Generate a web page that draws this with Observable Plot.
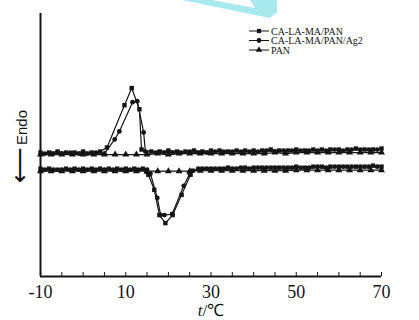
<!DOCTYPE html>
<html><head><meta charset="utf-8">
<script src="https://cdn.jsdelivr.net/npm/d3@7"></script>
<script src="https://cdn.jsdelivr.net/npm/@observablehq/plot@0.6"></script>
<style>html,body{margin:0;padding:0;background:#fff;} #chart{width:419px;height:320px;overflow:hidden;position:relative;}</style>
</head><body><div id="chart"></div>
<script>
const seriesNames = ["CA-LA-MA/PAN", "CA-LA-MA/PAN/Ag2", "PAN"];
const xTickLabels = [-10, 10, 30, 50, 70];
const xMinorTicks = [-10, -5, 0, 5, 10, 15, 20, 25, 30, 35, 40, 45, 50, 55, 60, 65, 70];
const xLabel = "℃";
const yLabel = "Endo";
const yArrow = "⟵";

// heating (upper) traces
const heatSqT = [-10,-8,-6,-4,-2,0,2,4,5.6,9.7,11.4,13.2,13.7,16,18,20,22,24,26,28,30,32,34,36,38,40,42,44,46,48,50,52,54,56,58,60,62,64,66,68,70];
const heatSqV = [12.3,12.3,12.4,12.3,12.3,12.4,12.3,12.4,12.8,17.0,18.7,16.6,12.6,12.4,12.4,12.5,12.4,12.4,12.5,12.4,12.5,12.5,12.4,12.5,12.5,12.5,12.5,12.6,12.5,12.5,12.6,12.5,12.6,12.6,12.6,12.6,12.6,12.7,12.6,12.6,12.7];
const heatCiT = [-9,-7,-5,-3,-1,1,3,5,7.4,8.5,11.6,12.7,14.2,14.6,17,19,21,23,25,27,29,31,33,35,37,39,41,43,45,47,49,51,53,55,57,59,61,63,65,67,69];
const heatCiV = [12.2,12.2,12.2,12.3,12.2,12.2,12.3,12.2,13.6,14.4,17.3,17.4,14.3,12.4,12.3,12.3,12.3,12.3,12.4,12.3,12.3,12.4,12.4,12.4,12.4,12.4,12.4,12.5,12.4,12.5,12.5,12.5,12.5,12.5,12.5,12.6,12.5,12.6,12.6,12.6,12.6];
const heatTrT = [-10,-7.5,-5,-2.5,0,2.5,5,7.5,10,12.5,15,17.5,20,22.5,25,27.5,30,32.5,35,37.5,40,42.5,45,47.5,50,52.5,55,57.5,60,62.5,65,67.5,70];
const heatTrV = [12.1,12.1,12.1,12.1,12.1,12.1,12.1,12.1,12.1,12.1,12.1,12.2,12.1,12.2,12.2,12.2,12.2,12.2,12.2,12.2,12.2,12.2,12.3,12.2,12.3,12.3,12.3,12.3,12.3,12.3,12.3,12.3,12.3];

// cooling (lower) traces
const coolSqT = [-10,-8,-6,-4,-2,0,2,4,6,8,10,12,14,14.9,15.3,16.7,17.9,19.3,21.0,23.1,25.2,25.7,28,30,32,34,36,38,40,42,44,46,48,50,52,54,56,58,60,62,64,66,68,70];
const coolSqV = [10.7,10.7,10.6,10.7,10.7,10.7,10.7,10.7,10.7,10.7,10.7,10.7,10.7,10.4,10.1,8.6,6.1,5.3,6.1,8.1,10.1,10.5,10.7,10.7,10.7,10.8,10.7,10.8,10.8,10.8,10.8,10.8,10.8,10.9,10.8,10.9,10.9,10.9,10.9,10.9,10.9,10.9,11.0,10.9];
const coolCiT = [-9,-7,-5,-3,-1,1,3,5,7,9,11,13,15,15.8,17.4,18.2,19.1,20.9,23.6,25.0,27,29,31,33,35,37,39,41,43,45,47,49,51,53,55,57,59,61,63,65,67,69];
const coolCiV = [10.6,10.6,10.6,10.6,10.6,10.6,10.6,10.6,10.6,10.6,10.6,10.6,10.6,10.2,7.8,6.1,6.1,6.2,9.0,10.2,10.7,10.7,10.7,10.7,10.7,10.8,10.7,10.8,10.8,10.8,10.8,10.8,10.8,10.8,10.9,10.8,10.9,10.9,10.9,10.9,10.9,10.9];
const coolTrT = [-10,-7.5,-5,-2.5,0,2.5,5,7.5,10,12.5,15,17.5,20,22.5,25,27.5,30,32.5,35,37.5,40,42.5,45,47.5,50,52.5,55,57.5,60,62.5,65,67.5,70];
const coolTrV = [10.45,10.45,10.45,10.45,10.45,10.45,10.45,10.45,10.45,10.45,10.45,10.45,10.45,10.45,10.45,10.5,10.5,10.5,10.5,10.5,10.5,10.5,10.5,10.5,10.55,10.55,10.55,10.55,10.55,10.55,10.55,10.55,10.55];

const rows = (T, V, s, phase) => T.map((t, i) => ({t, v: V[i], s, key: s + phase}));
const sq = [...rows(heatSqT, heatSqV, seriesNames[0], "h"), ...rows(coolSqT, coolSqV, seriesNames[0], "c")];
const ci = [...rows(heatCiT, heatCiV, seriesNames[1], "h"), ...rows(coolCiT, coolCiV, seriesNames[1], "c")];
const tr = [...rows(heatTrT, heatTrV, seriesNames[2], "h"), ...rows(coolTrT, coolTrV, seriesNames[2], "c")];
const ink = "#141414";

const chart = Plot.plot({
  width: 419, height: 320,
  marginLeft: 40, marginRight: 38, marginTop: 13, marginBottom: 44,
  style: {fontFamily: "'Liberation Serif', serif", fontSize: "18px", background: "#fff", color: ink},
  x: {domain: [-10, 70], label: null},
  y: {domain: [0, 26.1], axis: null},
  marks: [
    Plot.line(tr, {x: "t", y: "v", z: "key", stroke: ink, strokeWidth: 1.2}),
    Plot.line(ci, {x: "t", y: "v", z: "key", stroke: ink, strokeWidth: 1.2}),
    Plot.line(sq, {x: "t", y: "v", z: "key", stroke: ink, strokeWidth: 1.2}),
    Plot.dot(tr, {x: "t", y: "v", symbol: "triangle", fill: ink, r: 2.6}),
    Plot.dot(ci, {x: "t", y: "v", symbol: "circle", fill: ink, r: 2.4}),
    Plot.dot(sq, {x: "t", y: "v", symbol: "square", fill: ink, r: 2.5}),
    Plot.axisX({ticks: xMinorTicks, tickSize: -4, tickFormat: () => "", stroke: ink}),
    Plot.axisX({ticks: xTickLabels, tickSize: 0, tickPadding: 9, fill: ink, tickFormat: d => String(d)}),
    Plot.ruleX([-10], {stroke: ink, strokeWidth: 2}),
    Plot.ruleY([0], {stroke: ink, strokeWidth: 2})
  ]
});
document.getElementById("chart").appendChild(chart);

const svg = d3.select(chart);
// cyan annotation arrow fragment at top
svg.append("polygon")
  .attr("points", "182,0 212,0 255,8 250,0 277,0 277,12 270,18")
  .attr("fill", "#a8e9ed");

// legend
const sym = ["square", "circle", "triangle"];
const symMap = {square: d3.symbolSquare, circle: d3.symbolCircle, triangle: d3.symbolTriangle};
seriesNames.forEach((name, i) => {
  const y = 31 + i * 9.5;
  const g = svg.append("g");
  g.append("line").attr("x1", 249).attr("x2", 269).attr("y1", y).attr("y2", y).attr("stroke", ink).attr("stroke-width", 1);
  g.append("path").attr("transform", `translate(259,${y})`).attr("d", d3.symbol(symMap[sym[i]], 18)()).attr("fill", ink);
  g.append("text").attr("x", 271).attr("y", y)
    .attr("dy", "0.35em").attr("font-size", 10).attr("text-anchor", "start")
    .attr("font-family", "'Liberation Serif', serif").attr("fill", ink)
    .text(name);
});

// x label
const xl = svg.append("text").attr("x", 211).attr("y", 316).attr("text-anchor", "middle")
  .attr("font-size", 17).attr("font-family", "'Liberation Serif', serif").attr("fill", ink);
xl.append("tspan").attr("font-style", "italic").text("t");
xl.append("tspan").text("/" + xLabel);

// y label: arrow + word
svg.append("text").attr("transform", "translate(28,183) rotate(-90)")
  .attr("text-anchor", "start").attr("font-size", 25)
  .attr("font-family", "'DejaVu Sans', sans-serif").attr("fill", ink)
  .text(yArrow);
svg.append("text").attr("transform", "translate(27,145) rotate(-90)")
  .attr("text-anchor", "start").attr("font-size", 15)
  .attr("font-family", "'Liberation Sans', sans-serif").attr("fill", ink)
  .text(yLabel);
</script></body></html>
